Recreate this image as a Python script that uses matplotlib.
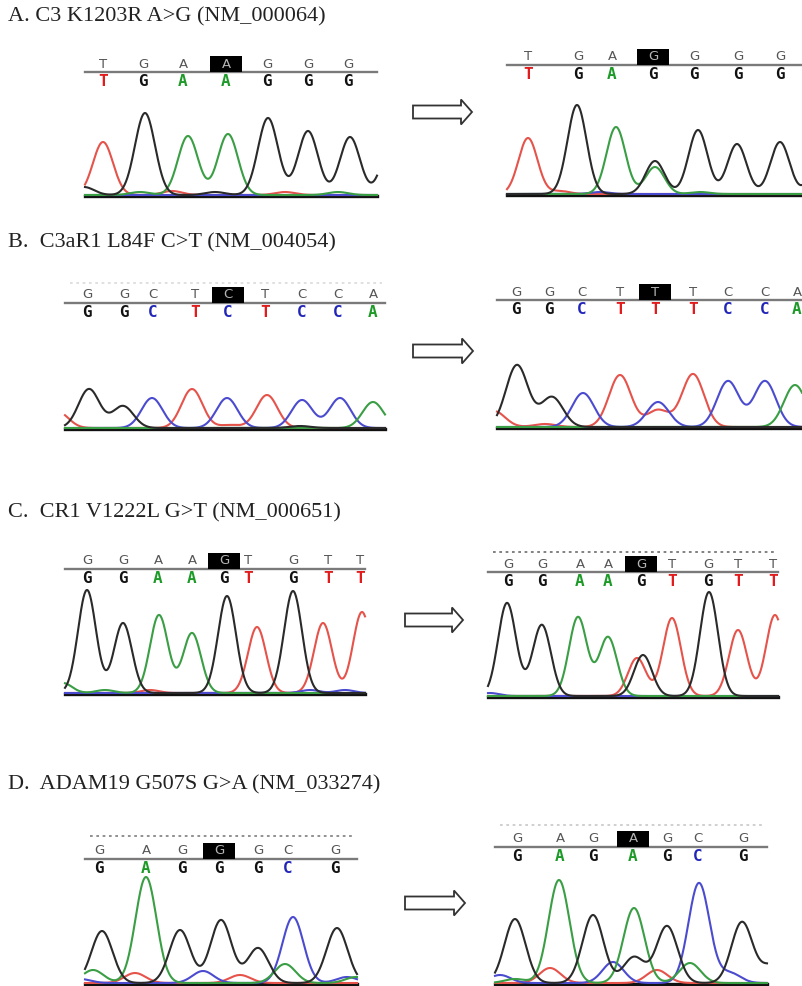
import matplotlib.pyplot as plt
import matplotlib.patches as mpatches
import numpy as np

# panel titles
TITLES = [
    'A. C3 K1203R A>G (NM_000064)',
    'B.  C3aR1 L84F C>T (NM_004054)',
    'C.  CR1 V1222L G>T (NM_000651)',
    'D.  ADAM19 G507S G>A (NM_033274)',
]

# base calls (reference / mutant) with their positions along the trace
SEQ_A_WT = 'TGAAGGG'
POS_A_WT = [103, 143, 183, 226, 267, 308, 348]
SEQ_A_MUT = 'TGAGGGG'
POS_A_MUT = [528, 578, 612, 653, 694, 738, 780]

SEQ_B_WT = 'GGCTCTCCA'
POS_B_WT = [87, 124, 153, 195, 228, 265, 302, 338, 373]
SEQ_B_MUT = 'GGCTTTCCA'
POS_B_MUT = [516, 549, 582, 620, 655, 693, 728, 765, 797]

SEQ_C_WT = 'GGAAGTGTT'
POS_C_WT = [87, 123, 158, 192, 224, 248, 293, 328, 360]
SEQ_C_MUT = 'GGAAGTGTT'
POS_C_MUT = [508, 542, 580, 608, 641, 672, 708, 738, 773]

SEQ_D_WT = 'GAGGGCG'
POS_D_WT = [99, 146, 182, 219, 258, 288, 335]
SEQ_D_MUT = 'GAGAGCG'
POS_D_MUT = [517, 560, 593, 633, 667, 698, 743]

# index of the variant base in each sequence
VARIANT_IDX = {'A': 3, 'B': 4, 'C': 4, 'D': 3}

# chromatogram peaks: (channel, position, height)
PEAKS_A_WT = [('T', 103, 53), ('G', 145, 82), ('A', 188, 59), ('A', 228, 61),
              ('G', 268, 77), ('G', 308, 64), ('G', 350, 58), ('G', 392, 55),
              ('G', 84, 8), ('T', 172, 4), ('A', 140, 3), ('G', 215, 3),
              ('T', 285, 3), ('A', 338, 3)]
PEAKS_A_MUT = [('T', 528, 56), ('G', 577, 89), ('A', 616, 67), ('G', 655, 33),
               ('A', 655, 27), ('G', 698, 64), ('G', 737, 50), ('G', 780, 52),
               ('G', 822, 50), ('T', 560, 3), ('C', 600, 2), ('A', 700, 2)]

PEAKS_B_WT = [('G', 89, 39), ('G', 123, 22), ('C', 152, 30), ('T', 192, 39),
              ('C', 227, 30), ('T', 267, 33), ('C', 302, 28), ('C', 340, 30),
              ('A', 373, 26), ('T', 58, 16), ('T', 230, 3), ('G', 300, 2)]
PEAKS_B_MUT = [('G', 517, 62), ('G', 552, 30), ('C', 583, 34), ('T', 620, 52),
               ('C', 658, 25), ('T', 658, 17), ('T', 693, 53), ('C', 728, 46),
               ('C', 765, 46), ('A', 795, 42), ('T', 494, 16), ('T', 545, 3)]

PEAKS_C_WT = [('G', 87, 103), ('G', 123, 70), ('A', 159, 78), ('A', 192, 60),
              ('G', 227, 97), ('T', 257, 66), ('G', 293, 102), ('T', 323, 70),
              ('T', 362, 81), ('A', 63, 10), ('A', 105, 3), ('T', 150, 3),
              ('C', 310, 3), ('C', 345, 3)]
PEAKS_C_MUT = [('G', 507, 93), ('G', 542, 70), ('A', 578, 79), ('A', 608, 59),
               ('G', 643, 41), ('T', 637, 38), ('T', 672, 78), ('G', 709, 104),
               ('T', 738, 66), ('T', 775, 81), ('C', 490, 3), ('G', 530, 3)]

PEAKS_D_WT = [('G', 102, 52), ('A', 146, 106), ('G', 180, 53), ('G', 221, 63),
              ('G', 258, 35), ('C', 293, 66), ('G', 337, 55), ('A', 93, 13),
              ('T', 135, 10), ('C', 203, 12), ('T', 240, 8), ('A', 285, 19),
              ('C', 347, 6), ('A', 356, 6), ('C', 80, 4)]
PEAKS_D_MUT = [('G', 515, 64), ('A', 559, 103), ('G', 593, 68), ('A', 634, 75),
               ('G', 634, 26), ('G', 667, 57), ('C', 699, 100), ('G', 742, 61),
               ('C', 500, 8), ('T', 550, 15), ('C', 613, 21), ('T', 657, 13),
               ('A', 690, 20), ('C', 730, 10), ('G', 772, 18), ('A', 515, 4)]

# ---------------------------------------------------------------- layout
# per chromatogram: x-range, y of sequence rule, y of trace baseline, peak width, dotted rule
LAYOUT = {
    'A_WT': dict(x0=85, x1=377, line=72, base=195, sigma=10, dots=None),
    'A_MUT': dict(x0=507, x1=802, line=65, base=194, sigma=9.5, dots=None),
    'B_WT': dict(x0=65, x1=385, line=303, base=428, sigma=10.5, dots=(283, '#dddddd')),
    'B_MUT': dict(x0=497, x1=802, line=300, base=427, sigma=11, dots=None),
    'C_WT': dict(x0=65, x1=365, line=569, base=693, sigma=9, dots=None),
    'C_MUT': dict(x0=488, x1=778, line=572, base=696, sigma=9, dots=(552, '#777777')),
    'D_WT': dict(x0=85, x1=357, line=859, base=983, sigma=10.5, dots=(836, '#888888')),
    'D_MUT': dict(x0=495, x1=767, line=847, base=983, sigma=10.5, dots=(825, '#cccccc')),
}
TITLE_Y = [17, 243, 513, 785]
ARROW_Y = [112, 351, 620, 903]
ARROW_X = [413, 413, 405, 405]
ARROW_LEN = [59, 60, 58, 60]

BASE_COLORS = {'G': '#111111', 'A': '#1e9a28', 'C': '#2226b8', 'T': '#e21c1c'}
TRACE_COLORS = {'G': '#2a2a2a', 'A': '#3a9e44', 'C': '#4b4bd0', 'T': '#e5534b'}

fig = plt.figure(figsize=(8.02, 9.86), dpi=100)
ax = fig.add_axes([0, 0, 1, 1])
ax.set_xlim(0, 802)
ax.set_ylim(986, 0)
ax.axis('off')


def draw_chromatogram(key, seq, pos, peaks, var_idx):
    lay = LAYOUT[key]
    x0, x1 = lay['x0'], lay['x1']

    # sequence header
    if lay['dots'] is not None:
        dy, dc = lay['dots']
        ax.plot([x0 + 5, x1 - 3], [dy, dy], ls=(0, (1.5, 2)), color=dc, lw=1.3)
    ax.plot([x0, x1], [lay['line'], lay['line']], color='#7a7a7a', lw=1.7, zorder=2)
    for i, (ch, x) in enumerate(zip(seq, pos)):
        top_color = '#555555'
        if i == var_idx:
            ax.add_patch(mpatches.Rectangle((x - 16, lay['line'] - 16), 32, 15.5,
                                            facecolor='black', edgecolor='none', zorder=3))
            top_color = '#b5b5b5'
        ax.text(x, lay['line'] - 1.5, ch, ha='center', va='bottom', fontsize=9.5,
                color=top_color, family='DejaVu Sans', zorder=4)
        ax.text(x, lay['line'] + 2, ch, ha='center', va='top', fontsize=11.5,
                fontweight='bold', color=BASE_COLORS[ch], family='DejaVu Sans Mono', zorder=4)

    # traces
    xs = np.linspace(x0, x1, 600)
    for ch in 'TCAG':
        sig = np.zeros_like(xs)
        for c, p, h in peaks:
            if c == ch:
                sig += h * np.exp(-(xs - p) ** 2 / (2 * lay['sigma'] ** 2))
        ax.plot(xs, lay['base'] - sig, color=TRACE_COLORS[ch], lw=1.5, zorder=3)
    ax.plot([x0, x1], [lay['base'] + 0.5, lay['base'] + 0.5], color='#111111', lw=2.4, zorder=2)


panels = [
    ('A', SEQ_A_WT, POS_A_WT, PEAKS_A_WT, SEQ_A_MUT, POS_A_MUT, PEAKS_A_MUT),
    ('B', SEQ_B_WT, POS_B_WT, PEAKS_B_WT, SEQ_B_MUT, POS_B_MUT, PEAKS_B_MUT),
    ('C', SEQ_C_WT, POS_C_WT, PEAKS_C_WT, SEQ_C_MUT, POS_C_MUT, PEAKS_C_MUT),
    ('D', SEQ_D_WT, POS_D_WT, PEAKS_D_WT, SEQ_D_MUT, POS_D_MUT, PEAKS_D_MUT),
]

for k, (name, s_wt, p_wt, pk_wt, s_mut, p_mut, pk_mut) in enumerate(panels):
    ax.text(8, TITLE_Y[k], TITLES[k], ha='left', va='center', fontsize=16,
            family='Liberation Serif', color='#222222')
    draw_chromatogram(name + '_WT', s_wt, p_wt, pk_wt, VARIANT_IDX[name])
    draw_chromatogram(name + '_MUT', s_mut, p_mut, pk_mut, VARIANT_IDX[name])

    # hollow arrow between wild type and variant
    ax.add_patch(mpatches.FancyArrow(ARROW_X[k], ARROW_Y[k], ARROW_LEN[k], 0,
                                     width=13, head_width=25, head_length=11,
                                     length_includes_head=True, facecolor='white',
                                     edgecolor='#333333', lw=1.3))

fig.savefig('out.png', dpi=100, facecolor='white')
